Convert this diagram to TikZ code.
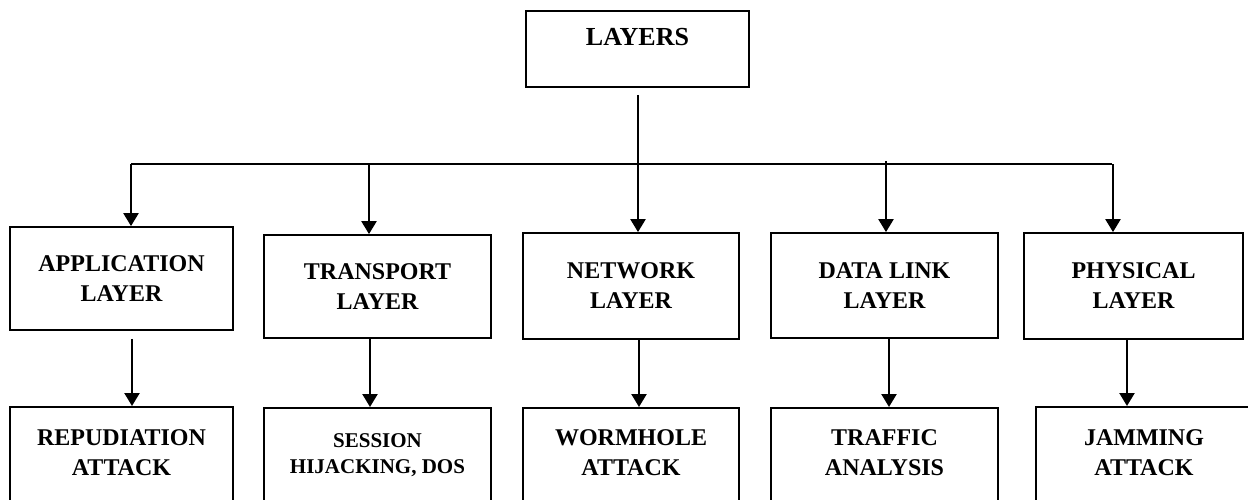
\documentclass[tikz,border=0pt]{standalone}
\usepackage{fontspec}
\setmainfont{Liberation Serif}
\usetikzlibrary{arrows.meta}
\begin{document}
\begin{tikzpicture}[x=1pt,y=-1pt,
  box/.style={draw, line width=1.8pt, inner sep=0pt},
  lbl/.style={font=\bfseries\fontsize{24}{30}\selectfont, align=center, inner sep=0pt},
  lblsmall/.style={font=\bfseries\fontsize{21}{26}\selectfont, align=center, inner sep=0pt},
  arr/.style={line width=2.3pt, -{Triangle[length=13pt,width=15pt]}},
  bus/.style={line width=1.5pt}]
\useasboundingbox (0,0) rectangle (1248,499);
\clip (0,0) rectangle (1248,499);
% top box
\node[box, minimum width=223pt, minimum height=76pt] (layers) at (637.5,49) {};
\node[lbl, font=\bfseries\fontsize{26}{30}\selectfont, anchor=base] (layerst) at (637.5,45) {LAYERS};
% row 1
\node[box, lbl, minimum width=223pt, minimum height=103pt] (app) at (121.5,278.5) {APPLICATION\\LAYER};
\node[box, lbl, minimum width=227pt, minimum height=103pt] (tra) at (377.5,286.5) {TRANSPORT\\LAYER};
\node[box, lbl, minimum width=216pt, minimum height=106pt] (net) at (631,286) {NETWORK\\LAYER};
\node[box, lbl, minimum width=227pt, minimum height=105pt] (dl) at (884.5,285.5) {DATA LINK\\LAYER};
\node[box, lbl, minimum width=219pt, minimum height=106pt] (phy) at (1133.5,286) {PHYSICAL\\LAYER};
% row 2 boxes
\node[box, anchor=north, minimum width=223pt, minimum height=130pt] (rep) at (121.5,406) {};
\node[box, anchor=north, minimum width=227pt, minimum height=130pt] (ses) at (377.5,407) {};
\node[box, anchor=north, minimum width=216pt, minimum height=130pt] (wor) at (631,407) {};
\node[box, anchor=north, minimum width=227pt, minimum height=130pt] (tff) at (884.5,407) {};
\node[box, anchor=north, minimum width=216pt, minimum height=130pt] (jam) at (1144,406) {};
% row 2 texts
\node[lbl] (rept) at (121.5,453) {REPUDIATION\\ATTACK};
\node[lblsmall] (sest) at (377.5,455) {SESSION\\HIJACKING, DOS};
\node[lbl] (wort) at (631,453) {WORMHOLE\\ATTACK};
\node[lbl] (tfft) at (884.5,453) {TRAFFIC\\ANALYSIS};
\node[lbl] (jamt) at (1144,453) {JAMMING\\ATTACK};
% bus
\coordinate (b1) at (131,164);
\coordinate (b2) at (369,164);
\coordinate (b4) at (886,161);
\coordinate (b5) at (1113,164);
\coordinate (lx) at (638,164);
\draw[bus] (b1) -- (1112,164);
\draw[arr, shorten <=7pt] (layers.south -| lx) -- (net.north -| lx);
\draw[arr] (b1) -- (app.north -| b1);
\draw[arr] (b2) -- (tra.north -| b2);
\draw[arr] (b4) -- (dl.north -| b4);
\draw[arr] (b5) -- (phy.north -| b5);
% row1 -> row2
\draw[arr, shorten <=8pt] ([xshift=10.5pt]app.south) -- ([xshift=10.5pt]app.south |- rep.north);
\draw[arr] ([xshift=-7.5pt]tra.south) -- ([xshift=-7.5pt]tra.south |- ses.north);
\draw[arr] ([xshift=8pt]net.south) -- ([xshift=8pt]net.south |- wor.north);
\draw[arr] ([xshift=4.5pt]dl.south) -- ([xshift=4.5pt]dl.south |- tff.north);
\draw[arr] ([xshift=-6.5pt]phy.south) -- ([xshift=-6.5pt]phy.south |- jam.north);
\end{tikzpicture}
\end{document}
